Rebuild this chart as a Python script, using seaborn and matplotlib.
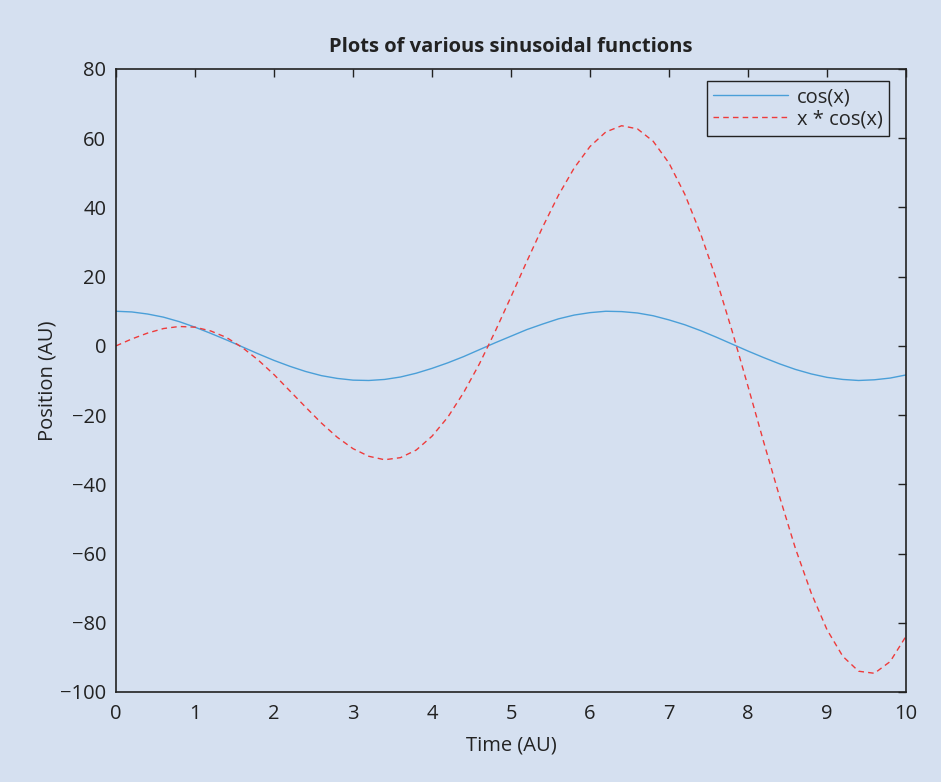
import matplotlib
matplotlib.use("Agg")
import matplotlib.pyplot as plt
import seaborn as sns
import pandas as pd

# Values (time step 0.2)
time = [round(i * 0.2, 1) for i in range(51)]
cos_vals = [10.0, 9.8, 9.2, 8.3, 7.0, 5.4, 3.6, 1.7, -0.3, -2.3,
            -4.2, -5.9, -7.4, -8.6, -9.4, -9.9, -10.0, -9.7, -9.0, -7.9,
            -6.5, -4.9, -3.1, -1.1, 0.9, 2.8, 4.7, 6.3, 7.8, 8.9,
            9.6, 10.0, 9.9, 9.5, 8.7, 7.5, 6.1, 4.4, 2.5, 0.5,
            -1.5, -3.4, -5.2, -6.8, -8.1, -9.1, -9.7, -10.0, -9.8, -9.3, -8.4]
xcos_vals = [0.0, 2.0, 3.7, 5.0, 5.6, 5.4, 4.3, 2.4, -0.5, -4.1,
             -8.3, -13.0, -17.7, -22.3, -26.4, -29.7, -31.9, -32.9, -32.3, -30.1,
             -26.1, -20.6, -13.5, -5.2, 4.2, 14.2, 24.4, 34.3, 43.5, 51.4,
             57.6, 61.8, 63.6, 62.7, 59.1, 52.8, 43.8, 32.4, 19.2, 4.2,
             -11.7, -27.9, -43.6, -58.5, -71.4, -82.0, -89.7, -94.0, -94.6, -91.2, -83.9]
series_names = ["cos(x)", "x * cos(x)"]
xticks = list(range(0, 11))
yticks = list(range(-100, 81, 20))

df = pd.DataFrame({"Time": time * 2,
                   "Value": cos_vals + xcos_vals,
                   "Series": [series_names[0]] * len(time) + [series_names[1]] * len(time)})

bg = "#d5e0f0"
ink = "#222222"
fs = 14.5
sns.set_style("white")
plt.rcParams["font.family"] = ["Open Sans", "DejaVu Sans"]

fig = plt.figure(figsize=(9.41, 7.82), dpi=100, facecolor=bg)
ax = fig.add_axes([0.1233, 0.1151, 0.8395, 0.7967])
ax.set_facecolor(bg)

sns.lineplot(data=df, x="Time", y="Value", hue="Series", style="Series",
             palette=["#4a9fd8", "#ee3b3b"], dashes=[(None, None), (4, 3)],
             linewidth=1.0, ax=ax)

ax.set_xlim(0, 10)
ax.set_ylim(-100, 80)
ax.set_xticks(xticks)
ax.set_yticks(yticks)
ax.set_yticklabels([str(t).replace("-", "\u2212") for t in yticks])
ax.tick_params(direction="in", length=6, width=1, colors=ink,
               labelsize=fs, top=True, right=True)
ax.tick_params(axis="x", pad=9)
ax.tick_params(axis="y", pad=7)
for s in ax.spines.values():
    s.set_color(ink)
    s.set_linewidth(1.2)

ax.set_xlabel("Time (AU)", fontsize=fs, color=ink, labelpad=8)
ax.set_ylabel("Position (AU)", fontsize=fs, color=ink, labelpad=2)
ax.set_title("Plots of various sinusoidal functions", fontsize=fs,
             fontweight="bold", color=ink, pad=12)

leg = ax.legend(loc="upper right", bbox_to_anchor=(0.978, 0.98), fontsize=fs,
                frameon=True, fancybox=False, handlelength=3.7,
                handletextpad=0.45, borderpad=0.3, labelspacing=0.1,
                borderaxespad=0.0)
leg.get_frame().set_edgecolor(ink)
leg.get_frame().set_facecolor(bg)
leg.get_frame().set_linewidth(1.0)
leg.get_frame().set_alpha(1.0)

fig.savefig("out.png", dpi=100, facecolor=bg)
